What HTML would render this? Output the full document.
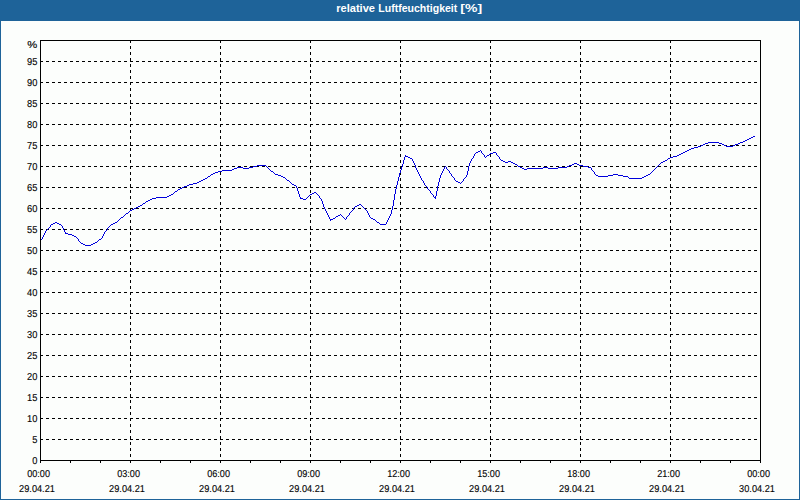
<!DOCTYPE html>
<html lang="de"><head><meta charset="utf-8"><title>relative Luftfeuchtigkeit [%]</title>
<style>
html,body{margin:0;padding:0;background:#fcfefc;overflow:hidden}
body{width:800px;height:500px;position:relative}
svg{position:absolute;left:0;top:0;display:block}
text{font-family:"Liberation Sans", "DejaVu Sans", sans-serif;font-size:10px;fill:#000;text-rendering:geometricPrecision;stroke:#000;stroke-width:.12px}
.t{font-size:11px;font-weight:bold;fill:#fff;stroke:none;text-rendering:auto}
.g{stroke:#000;stroke-width:1;stroke-dasharray:3 3;fill:none;shape-rendering:crispEdges}
.a{stroke:#000;stroke-width:1;fill:none;shape-rendering:crispEdges}
</style></head><body>
<svg width="800" height="500" viewBox="0 0 800 500">
<rect x="0" y="0" width="800" height="500" fill="#fcfefc"/>
<rect x="0" y="0" width="800" height="21" fill="#1e6399"/>
<rect x="0" y="0" width="1" height="500" fill="#1e6399"/>
<rect x="799" y="0" width="1" height="500" fill="#1e6399"/>
<rect x="0" y="499" width="800" height="1" fill="#1e6399"/>
<text class="t" y="12"><tspan x="336.2" textLength="38.8" lengthAdjust="spacingAndGlyphs">relative</tspan> <tspan x="378.3" textLength="79" lengthAdjust="spacingAndGlyphs">Luftfeuchtigkeit</tspan> <tspan x="460.3" textLength="21.8" lengthAdjust="spacingAndGlyphs">[%]</tspan></text>
<line class="g" x1="40" y1="439.5" x2="760" y2="439.5"/>
<line class="g" x1="40" y1="418.5" x2="760" y2="418.5"/>
<line class="g" x1="40" y1="397.5" x2="760" y2="397.5"/>
<line class="g" x1="40" y1="376.5" x2="760" y2="376.5"/>
<line class="g" x1="40" y1="355.5" x2="760" y2="355.5"/>
<line class="g" x1="40" y1="334.5" x2="760" y2="334.5"/>
<line class="g" x1="40" y1="313.5" x2="760" y2="313.5"/>
<line class="g" x1="40" y1="292.5" x2="760" y2="292.5"/>
<line class="g" x1="40" y1="271.5" x2="760" y2="271.5"/>
<line class="g" x1="40" y1="250.5" x2="760" y2="250.5"/>
<line class="g" x1="40" y1="229.5" x2="760" y2="229.5"/>
<line class="g" x1="40" y1="208.5" x2="760" y2="208.5"/>
<line class="g" x1="40" y1="187.5" x2="760" y2="187.5"/>
<line class="g" x1="40" y1="166.5" x2="760" y2="166.5"/>
<line class="g" x1="40" y1="145.5" x2="760" y2="145.5"/>
<line class="g" x1="40" y1="124.5" x2="760" y2="124.5"/>
<line class="g" x1="40" y1="103.5" x2="760" y2="103.5"/>
<line class="g" x1="40" y1="82.5" x2="760" y2="82.5"/>
<line class="g" x1="40" y1="61.5" x2="760" y2="61.5"/>
<line class="g" x1="130.5" y1="40" x2="130.5" y2="460"/>
<line class="g" x1="220.5" y1="40" x2="220.5" y2="460"/>
<line class="g" x1="310.5" y1="40" x2="310.5" y2="460"/>
<line class="g" x1="400.5" y1="40" x2="400.5" y2="460"/>
<line class="g" x1="490.5" y1="40" x2="490.5" y2="460"/>
<line class="g" x1="580.5" y1="40" x2="580.5" y2="460"/>
<line class="g" x1="670.5" y1="40" x2="670.5" y2="460"/>
<rect class="a" x="40.5" y="40.5" width="720" height="420"/>
<line class="a" x1="40.5" y1="460" x2="40.5" y2="463"/>
<line class="a" x1="70.5" y1="460" x2="70.5" y2="463"/>
<line class="a" x1="100.5" y1="460" x2="100.5" y2="463"/>
<line class="a" x1="130.5" y1="460" x2="130.5" y2="463"/>
<line class="a" x1="160.5" y1="460" x2="160.5" y2="463"/>
<line class="a" x1="190.5" y1="460" x2="190.5" y2="463"/>
<line class="a" x1="220.5" y1="460" x2="220.5" y2="463"/>
<line class="a" x1="250.5" y1="460" x2="250.5" y2="463"/>
<line class="a" x1="280.5" y1="460" x2="280.5" y2="463"/>
<line class="a" x1="310.5" y1="460" x2="310.5" y2="463"/>
<line class="a" x1="340.5" y1="460" x2="340.5" y2="463"/>
<line class="a" x1="370.5" y1="460" x2="370.5" y2="463"/>
<line class="a" x1="400.5" y1="460" x2="400.5" y2="463"/>
<line class="a" x1="430.5" y1="460" x2="430.5" y2="463"/>
<line class="a" x1="460.5" y1="460" x2="460.5" y2="463"/>
<line class="a" x1="490.5" y1="460" x2="490.5" y2="463"/>
<line class="a" x1="520.5" y1="460" x2="520.5" y2="463"/>
<line class="a" x1="550.5" y1="460" x2="550.5" y2="463"/>
<line class="a" x1="580.5" y1="460" x2="580.5" y2="463"/>
<line class="a" x1="610.5" y1="460" x2="610.5" y2="463"/>
<line class="a" x1="640.5" y1="460" x2="640.5" y2="463"/>
<line class="a" x1="670.5" y1="460" x2="670.5" y2="463"/>
<line class="a" x1="700.5" y1="460" x2="700.5" y2="463"/>
<line class="a" x1="730.5" y1="460" x2="730.5" y2="463"/>
<line class="a" x1="760.5" y1="460" x2="760.5" y2="463"/>
<text x="37.3" y="48" text-anchor="end" textLength="10" lengthAdjust="spacingAndGlyphs">%</text>
<text x="37.4" y="464.0" text-anchor="end" textLength="5.17" lengthAdjust="spacingAndGlyphs">0</text>
<text x="37.4" y="443.0" text-anchor="end" textLength="5.17" lengthAdjust="spacingAndGlyphs">5</text>
<text x="37.4" y="422.0" text-anchor="end" textLength="10.34" lengthAdjust="spacingAndGlyphs">10</text>
<text x="37.4" y="401.0" text-anchor="end" textLength="10.34" lengthAdjust="spacingAndGlyphs">15</text>
<text x="37.4" y="380.0" text-anchor="end" textLength="10.34" lengthAdjust="spacingAndGlyphs">20</text>
<text x="37.4" y="359.0" text-anchor="end" textLength="10.34" lengthAdjust="spacingAndGlyphs">25</text>
<text x="37.4" y="338.0" text-anchor="end" textLength="10.34" lengthAdjust="spacingAndGlyphs">30</text>
<text x="37.4" y="317.0" text-anchor="end" textLength="10.34" lengthAdjust="spacingAndGlyphs">35</text>
<text x="37.4" y="296.0" text-anchor="end" textLength="10.34" lengthAdjust="spacingAndGlyphs">40</text>
<text x="37.4" y="275.0" text-anchor="end" textLength="10.34" lengthAdjust="spacingAndGlyphs">45</text>
<text x="37.4" y="254.0" text-anchor="end" textLength="10.34" lengthAdjust="spacingAndGlyphs">50</text>
<text x="37.4" y="233.0" text-anchor="end" textLength="10.34" lengthAdjust="spacingAndGlyphs">55</text>
<text x="37.4" y="212.0" text-anchor="end" textLength="10.34" lengthAdjust="spacingAndGlyphs">60</text>
<text x="37.4" y="191.0" text-anchor="end" textLength="10.34" lengthAdjust="spacingAndGlyphs">65</text>
<text x="37.4" y="170.0" text-anchor="end" textLength="10.34" lengthAdjust="spacingAndGlyphs">70</text>
<text x="37.4" y="149.0" text-anchor="end" textLength="10.34" lengthAdjust="spacingAndGlyphs">75</text>
<text x="37.4" y="128.0" text-anchor="end" textLength="10.34" lengthAdjust="spacingAndGlyphs">80</text>
<text x="37.4" y="107.0" text-anchor="end" textLength="10.34" lengthAdjust="spacingAndGlyphs">85</text>
<text x="37.4" y="86.0" text-anchor="end" textLength="10.34" lengthAdjust="spacingAndGlyphs">90</text>
<text x="37.4" y="65.0" text-anchor="end" textLength="10.34" lengthAdjust="spacingAndGlyphs">95</text>
<text x="27.2" y="477" textLength="22.8" lengthAdjust="spacingAndGlyphs">00:00</text>
<text x="19.1" y="492" textLength="35.8" lengthAdjust="spacingAndGlyphs">29.04.21</text>
<text x="117.2" y="477" textLength="22.8" lengthAdjust="spacingAndGlyphs">03:00</text>
<text x="109.1" y="492" textLength="35.8" lengthAdjust="spacingAndGlyphs">29.04.21</text>
<text x="207.2" y="477" textLength="22.8" lengthAdjust="spacingAndGlyphs">06:00</text>
<text x="199.1" y="492" textLength="35.8" lengthAdjust="spacingAndGlyphs">29.04.21</text>
<text x="297.2" y="477" textLength="22.8" lengthAdjust="spacingAndGlyphs">09:00</text>
<text x="289.1" y="492" textLength="35.8" lengthAdjust="spacingAndGlyphs">29.04.21</text>
<text x="387.2" y="477" textLength="22.8" lengthAdjust="spacingAndGlyphs">12:00</text>
<text x="379.1" y="492" textLength="35.8" lengthAdjust="spacingAndGlyphs">29.04.21</text>
<text x="477.2" y="477" textLength="22.8" lengthAdjust="spacingAndGlyphs">15:00</text>
<text x="469.1" y="492" textLength="35.8" lengthAdjust="spacingAndGlyphs">29.04.21</text>
<text x="567.2" y="477" textLength="22.8" lengthAdjust="spacingAndGlyphs">18:00</text>
<text x="559.1" y="492" textLength="35.8" lengthAdjust="spacingAndGlyphs">29.04.21</text>
<text x="657.2" y="477" textLength="22.8" lengthAdjust="spacingAndGlyphs">21:00</text>
<text x="649.1" y="492" textLength="35.8" lengthAdjust="spacingAndGlyphs">29.04.21</text>
<text x="747.2" y="477" textLength="22.8" lengthAdjust="spacingAndGlyphs">00:00</text>
<text x="739.1" y="492" textLength="35.8" lengthAdjust="spacingAndGlyphs">30.04.21</text>
<path fill="#0000dc" shape-rendering="crispEdges" d="M753 136h2v1h-2zM751 137h2v1h-2zM749 138h2v1h-2zM747 139h2v1h-2zM745 140h2v1h-2zM743 141h2v1h-2zM708 142h11v1h-11zM740 142h3v1h-3zM705 143h3v1h-3zM719 143h3v1h-3zM738 143h2v1h-2zM703 144h2v1h-2zM722 144h2v1h-2zM735 144h3v1h-3zM701 145h2v1h-2zM724 145h2v1h-2zM733 145h2v1h-2zM698 146h3v1h-3zM726 146h7v1h-7zM694 147h4v1h-4zM691 148h3v1h-3zM689 149h2v1h-2zM480 150h1v1h-1zM687 150h2v1h-2zM478 151h2v1h-2zM481 151h1v1h-1zM685 151h2v1h-2zM476 152h2v1h-2zM481 152h1v1h-1zM493 152h3v1h-3zM683 152h2v1h-2zM475 153h1v1h-1zM482 153h1v1h-1zM490 153h3v1h-3zM496 153h1v1h-1zM681 153h2v1h-2zM474 154h1v1h-1zM483 154h1v1h-1zM489 154h1v1h-1zM496 154h1v1h-1zM679 154h2v1h-2zM405 155h1v1h-1zM474 155h1v1h-1zM484 155h1v1h-1zM487 155h2v1h-2zM497 155h1v1h-1zM677 155h2v1h-2zM405 156h3v1h-3zM473 156h1v1h-1zM484 156h1v1h-1zM486 156h1v1h-1zM498 156h1v1h-1zM673 156h4v1h-4zM404 157h1v1h-1zM408 157h2v1h-2zM473 157h1v1h-1zM485 157h1v1h-1zM499 157h1v1h-1zM670 157h3v1h-3zM404 158h1v1h-1zM410 158h2v1h-2zM472 158h1v1h-1zM499 158h1v1h-1zM668 158h2v1h-2zM404 159h1v1h-1zM412 159h1v1h-1zM471 159h1v1h-1zM500 159h1v1h-1zM667 159h1v1h-1zM403 160h1v1h-1zM412 160h1v1h-1zM471 160h1v1h-1zM501 160h2v1h-2zM665 160h2v1h-2zM403 161h1v1h-1zM413 161h1v1h-1zM470 161h1v1h-1zM503 161h2v1h-2zM508 161h3v1h-3zM663 161h2v1h-2zM403 162h1v1h-1zM413 162h1v1h-1zM470 162h1v1h-1zM505 162h3v1h-3zM511 162h2v1h-2zM661 162h2v1h-2zM403 163h1v1h-1zM414 163h1v1h-1zM469 163h1v1h-1zM513 163h2v1h-2zM574 163h3v1h-3zM660 163h1v1h-1zM402 164h1v1h-1zM414 164h1v1h-1zM469 164h1v1h-1zM515 164h2v1h-2zM572 164h2v1h-2zM577 164h2v1h-2zM659 164h1v1h-1zM257 165h9v1h-9zM402 165h1v1h-1zM415 165h1v1h-1zM469 165h1v1h-1zM517 165h1v1h-1zM569 165h3v1h-3zM579 165h4v1h-4zM658 165h1v1h-1zM253 166h4v1h-4zM266 166h1v1h-1zM402 166h1v1h-1zM415 166h1v1h-1zM445 166h1v1h-1zM468 166h1v1h-1zM518 166h2v1h-2zM567 166h2v1h-2zM583 166h5v1h-5zM657 166h1v1h-1zM237 167h6v1h-6zM249 167h4v1h-4zM267 167h1v1h-1zM401 167h1v1h-1zM415 167h1v1h-1zM444 167h1v1h-1zM446 167h1v1h-1zM468 167h1v1h-1zM520 167h2v1h-2zM543 167h5v1h-5zM558 167h9v1h-9zM588 167h3v1h-3zM656 167h1v1h-1zM234 168h3v1h-3zM243 168h6v1h-6zM268 168h1v1h-1zM401 168h1v1h-1zM416 168h1v1h-1zM444 168h1v1h-1zM446 168h1v1h-1zM468 168h1v1h-1zM522 168h2v1h-2zM527 168h16v1h-16zM548 168h10v1h-10zM591 168h1v1h-1zM655 168h1v1h-1zM232 169h2v1h-2zM269 169h1v1h-1zM401 169h1v1h-1zM416 169h1v1h-1zM443 169h1v1h-1zM447 169h1v1h-1zM468 169h1v1h-1zM524 169h3v1h-3zM591 169h1v1h-1zM654 169h1v1h-1zM222 170h10v1h-10zM270 170h1v1h-1zM400 170h1v1h-1zM417 170h1v1h-1zM443 170h1v1h-1zM448 170h1v1h-1zM468 170h1v1h-1zM592 170h1v1h-1zM653 170h1v1h-1zM218 171h4v1h-4zM271 171h2v1h-2zM400 171h1v1h-1zM417 171h1v1h-1zM442 171h1v1h-1zM449 171h1v1h-1zM467 171h1v1h-1zM593 171h1v1h-1zM652 171h1v1h-1zM215 172h3v1h-3zM273 172h1v1h-1zM400 172h1v1h-1zM418 172h1v1h-1zM442 172h1v1h-1zM449 172h1v1h-1zM467 172h1v1h-1zM594 172h1v1h-1zM651 172h1v1h-1zM213 173h2v1h-2zM274 173h1v1h-1zM399 173h1v1h-1zM418 173h1v1h-1zM441 173h1v1h-1zM450 173h1v1h-1zM467 173h1v1h-1zM594 173h1v1h-1zM650 173h1v1h-1zM211 174h2v1h-2zM275 174h3v1h-3zM399 174h1v1h-1zM419 174h1v1h-1zM441 174h1v1h-1zM451 174h1v1h-1zM467 174h1v1h-1zM595 174h1v1h-1zM613 174h5v1h-5zM648 174h2v1h-2zM210 175h1v1h-1zM278 175h3v1h-3zM399 175h1v1h-1zM419 175h1v1h-1zM440 175h1v1h-1zM451 175h1v1h-1zM466 175h1v1h-1zM596 175h2v1h-2zM608 175h5v1h-5zM618 175h5v1h-5zM646 175h2v1h-2zM208 176h2v1h-2zM281 176h2v1h-2zM399 176h1v1h-1zM420 176h1v1h-1zM440 176h1v1h-1zM452 176h1v1h-1zM466 176h1v1h-1zM598 176h10v1h-10zM623 176h5v1h-5zM644 176h2v1h-2zM207 177h1v1h-1zM283 177h2v1h-2zM398 177h1v1h-1zM420 177h1v1h-1zM440 177h1v1h-1zM453 177h1v1h-1zM465 177h1v1h-1zM628 177h1v1h-1zM642 177h2v1h-2zM205 178h2v1h-2zM285 178h1v1h-1zM398 178h1v1h-1zM421 178h1v1h-1zM439 178h1v1h-1zM454 178h1v1h-1zM464 178h1v1h-1zM629 178h13v1h-13zM203 179h2v1h-2zM286 179h1v1h-1zM398 179h1v1h-1zM421 179h1v1h-1zM439 179h1v1h-1zM454 179h1v1h-1zM463 179h1v1h-1zM201 180h2v1h-2zM287 180h2v1h-2zM398 180h1v1h-1zM422 180h1v1h-1zM439 180h1v1h-1zM455 180h1v1h-1zM463 180h1v1h-1zM199 181h2v1h-2zM289 181h1v1h-1zM397 181h1v1h-1zM423 181h1v1h-1zM439 181h1v1h-1zM456 181h2v1h-2zM462 181h1v1h-1zM197 182h2v1h-2zM290 182h1v1h-1zM397 182h1v1h-1zM423 182h1v1h-1zM438 182h1v1h-1zM458 182h2v1h-2zM461 182h1v1h-1zM193 183h4v1h-4zM291 183h1v1h-1zM397 183h1v1h-1zM424 183h1v1h-1zM438 183h1v1h-1zM460 183h1v1h-1zM189 184h4v1h-4zM292 184h2v1h-2zM397 184h1v1h-1zM424 184h1v1h-1zM438 184h1v1h-1zM187 185h2v1h-2zM294 185h2v1h-2zM396 185h1v1h-1zM425 185h1v1h-1zM438 185h1v1h-1zM184 186h3v1h-3zM296 186h1v1h-1zM396 186h1v1h-1zM426 186h1v1h-1zM437 186h1v1h-1zM182 187h2v1h-2zM296 187h1v1h-1zM396 187h1v1h-1zM427 187h1v1h-1zM437 187h1v1h-1zM180 188h2v1h-2zM297 188h1v1h-1zM396 188h1v1h-1zM427 188h1v1h-1zM437 188h1v1h-1zM178 189h2v1h-2zM297 189h1v1h-1zM395 189h1v1h-1zM428 189h1v1h-1zM437 189h1v1h-1zM177 190h1v1h-1zM297 190h1v1h-1zM395 190h1v1h-1zM429 190h1v1h-1zM437 190h1v1h-1zM175 191h2v1h-2zM298 191h1v1h-1zM395 191h1v1h-1zM430 191h1v1h-1zM436 191h1v1h-1zM174 192h1v1h-1zM298 192h1v1h-1zM314 192h2v1h-2zM395 192h1v1h-1zM430 192h1v1h-1zM436 192h1v1h-1zM173 193h1v1h-1zM298 193h1v1h-1zM312 193h2v1h-2zM316 193h1v1h-1zM395 193h1v1h-1zM431 193h1v1h-1zM436 193h1v1h-1zM171 194h2v1h-2zM299 194h1v1h-1zM310 194h2v1h-2zM317 194h1v1h-1zM394 194h1v1h-1zM432 194h1v1h-1zM436 194h1v1h-1zM169 195h2v1h-2zM299 195h1v1h-1zM309 195h1v1h-1zM318 195h1v1h-1zM394 195h1v1h-1zM433 195h1v1h-1zM436 195h1v1h-1zM167 196h2v1h-2zM299 196h1v1h-1zM308 196h1v1h-1zM319 196h1v1h-1zM394 196h1v1h-1zM433 196h1v1h-1zM435 196h1v1h-1zM156 197h11v1h-11zM300 197h1v1h-1zM307 197h1v1h-1zM319 197h1v1h-1zM394 197h1v1h-1zM434 197h2v1h-2zM152 198h4v1h-4zM300 198h3v1h-3zM306 198h1v1h-1zM320 198h1v1h-1zM394 198h1v1h-1zM435 198h1v1h-1zM150 199h2v1h-2zM303 199h3v1h-3zM321 199h1v1h-1zM394 199h1v1h-1zM148 200h2v1h-2zM321 200h1v1h-1zM393 200h1v1h-1zM146 201h2v1h-2zM322 201h1v1h-1zM393 201h1v1h-1zM145 202h1v1h-1zM322 202h1v1h-1zM393 202h1v1h-1zM143 203h2v1h-2zM322 203h1v1h-1zM393 203h1v1h-1zM142 204h1v1h-1zM323 204h1v1h-1zM359 204h2v1h-2zM393 204h1v1h-1zM140 205h2v1h-2zM323 205h1v1h-1zM357 205h2v1h-2zM361 205h1v1h-1zM393 205h1v1h-1zM138 206h2v1h-2zM323 206h1v1h-1zM355 206h2v1h-2zM362 206h1v1h-1zM392 206h1v1h-1zM136 207h2v1h-2zM324 207h1v1h-1zM354 207h1v1h-1zM363 207h1v1h-1zM392 207h1v1h-1zM134 208h2v1h-2zM324 208h1v1h-1zM353 208h1v1h-1zM364 208h1v1h-1zM392 208h1v1h-1zM132 209h2v1h-2zM325 209h1v1h-1zM353 209h1v1h-1zM365 209h1v1h-1zM392 209h1v1h-1zM130 210h2v1h-2zM325 210h1v1h-1zM352 210h1v1h-1zM366 210h1v1h-1zM391 210h1v1h-1zM129 211h1v1h-1zM326 211h1v1h-1zM351 211h1v1h-1zM367 211h1v1h-1zM391 211h1v1h-1zM128 212h1v1h-1zM326 212h1v1h-1zM350 212h1v1h-1zM367 212h1v1h-1zM391 212h1v1h-1zM126 213h2v1h-2zM327 213h1v1h-1zM349 213h1v1h-1zM368 213h1v1h-1zM391 213h1v1h-1zM125 214h1v1h-1zM327 214h1v1h-1zM340 214h1v1h-1zM349 214h1v1h-1zM368 214h1v1h-1zM390 214h1v1h-1zM124 215h1v1h-1zM328 215h1v1h-1zM338 215h2v1h-2zM341 215h1v1h-1zM348 215h1v1h-1zM369 215h1v1h-1zM390 215h1v1h-1zM123 216h1v1h-1zM328 216h1v1h-1zM336 216h2v1h-2zM342 216h1v1h-1zM347 216h1v1h-1zM369 216h1v1h-1zM389 216h1v1h-1zM121 217h2v1h-2zM329 217h1v1h-1zM335 217h1v1h-1zM343 217h1v1h-1zM346 217h1v1h-1zM370 217h1v1h-1zM389 217h1v1h-1zM120 218h1v1h-1zM329 218h1v1h-1zM333 218h2v1h-2zM344 218h1v1h-1zM346 218h1v1h-1zM371 218h2v1h-2zM388 218h1v1h-1zM119 219h1v1h-1zM330 219h3v1h-3zM345 219h1v1h-1zM373 219h2v1h-2zM388 219h1v1h-1zM118 220h1v1h-1zM330 220h1v1h-1zM375 220h1v1h-1zM387 220h1v1h-1zM117 221h1v1h-1zM376 221h1v1h-1zM387 221h1v1h-1zM55 222h2v1h-2zM115 222h2v1h-2zM377 222h2v1h-2zM386 222h1v1h-1zM53 223h2v1h-2zM57 223h2v1h-2zM113 223h2v1h-2zM379 223h1v1h-1zM386 223h1v1h-1zM51 224h2v1h-2zM59 224h2v1h-2zM111 224h2v1h-2zM380 224h6v1h-6zM50 225h1v1h-1zM61 225h1v1h-1zM110 225h1v1h-1zM50 226h1v1h-1zM62 226h1v1h-1zM109 226h1v1h-1zM49 227h1v1h-1zM62 227h1v1h-1zM108 227h1v1h-1zM48 228h1v1h-1zM63 228h1v1h-1zM107 228h1v1h-1zM47 229h1v1h-1zM63 229h1v1h-1zM107 229h1v1h-1zM46 230h1v1h-1zM64 230h1v1h-1zM106 230h1v1h-1zM45 231h1v1h-1zM64 231h1v1h-1zM105 231h1v1h-1zM45 232h1v1h-1zM65 232h1v1h-1zM104 232h1v1h-1zM44 233h1v1h-1zM65 233h3v1h-3zM104 233h1v1h-1zM44 234h1v1h-1zM68 234h4v1h-4zM103 234h1v1h-1zM43 235h1v1h-1zM72 235h2v1h-2zM103 235h1v1h-1zM43 236h1v1h-1zM74 236h2v1h-2zM102 236h1v1h-1zM42 237h1v1h-1zM76 237h1v1h-1zM102 237h1v1h-1zM42 238h1v1h-1zM77 238h1v1h-1zM101 238h1v1h-1zM41 239h1v1h-1zM78 239h1v1h-1zM99 239h2v1h-2zM78 240h1v1h-1zM98 240h1v1h-1zM79 241h1v1h-1zM97 241h1v1h-1zM80 242h1v1h-1zM95 242h2v1h-2zM81 243h2v1h-2zM93 243h2v1h-2zM83 244h2v1h-2zM91 244h2v1h-2zM85 245h6v1h-6z"/>
</svg>
</body></html>
